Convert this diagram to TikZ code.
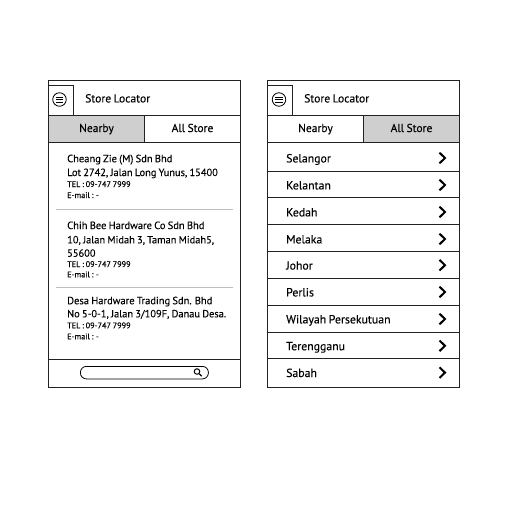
\documentclass[tikz,border=0pt]{standalone}
\usepackage{fontspec}
\setmainfont[WordSpace=0.8, FakeBold=0.12]{PT Sans}
\definecolor{tabgray}{HTML}{CFCFCF}
\definecolor{rulegray}{HTML}{BDBDBD}
\definecolor{framegray}{HTML}{222222}
\tikzset{
	frame/.style={draw=framegray, line width=1pt},
	tabbox/.style={frame, minimum height=27pt, inner sep=0pt, text height=8.5pt, text depth=2.5pt, font=\fontsize{11.5}{13}\selectfont},
	title/.style={anchor=base west, inner sep=0pt, font=\fontsize{11.6}{13}\selectfont},
	shop/.style={anchor=base west, inner sep=0pt, font=\fontsize{10.5}{12}\selectfont},
	addr/.style={anchor=base west, inner sep=0pt, font=\fontsize{10.4}{12}\selectfont},
	small/.style={anchor=base west, inner sep=0pt, font=\fontsize{8.2}{10}\selectfont},
	rowtext/.style={anchor=base west, inner sep=0pt, font=\fontsize{11.8}{13}\selectfont},
	chevron/.style={draw=black, line width=2pt, miter limit=4},
}
\begin{document}
\begin{tikzpicture}[x=1pt, y=-1pt]
	\useasboundingbox (0,0) rectangle (512,512);

	% left screen
	\node[frame, anchor=north west, minimum width=192pt, minimum height=307pt, inner sep=0pt] (leftscreen) at (48,80) {};
	\node[frame, anchor=north west, minimum width=25pt, minimum height=30pt, inner sep=0pt] (leftmenu) at (48,85) {};
	\node[circle, draw=black, line width=0.8pt, minimum size=13.5pt, inner sep=0pt] (lefticon) at (59.5,99.5) {};
	\foreach \dy in {-2.4,0,2.4}
		\draw[line width=0.8pt] ([xshift=-3.6pt, yshift=\dy pt]lefticon.center) -- ([xshift=3.6pt, yshift=\dy pt]lefticon.center);
	\node[title] (lefttitle) at (85,102.4) {Store Locator};
	\node[tabbox, fill=tabgray, anchor=north west, minimum width=96pt] (leftnear) at (48,115) {Nearby};
	\node[tabbox, anchor=north west, minimum width=96pt] (leftall) at (144,115) {All Store};

	\node[shop] (shopa)  at (67,162.2) {Cheang Zie (M) Sdn Bhd};
	\node[addr] (addra)  at (67,176) {Lot 2742, Jalan Long Yunus, 15400};
	\node[small] (tela)  at (67,187) {TEL : 09-747 7999};
	\node[small] (maila) at (67,198) {E-mail : -};
	\draw[rulegray, line width=0.6pt] (56,209.5) -- (233,209.5);

	\node[shop] (shopb)  at (67,229) {Chih Bee Hardware Co Sdn Bhd};
	\node[addr] (addrb)  at (67,243.3) {10, Jalan Midah 3, Taman Midah5,};
	\node[addr] (addrc)  at (67,256.7) {55600};
	\node[small] (telb)  at (67,267) {TEL : 09-747 7999};
	\node[small] (mailb) at (67,277.3) {E-mail : -};
	\draw[rulegray, line width=0.6pt] (56,287.5) -- (233,287.5);

	\node[shop] (shopc)  at (67,304.2) {Desa Hardware Trading Sdn. Bhd};
	\node[addr] (addrd)  at (67,317.3) {No 5-0-1, Jalan 3/109F, Danau Desa.};
	\node[small] (telc)  at (67,328.3) {TEL : 09-747 7999};
	\node[small] (mailc) at (67,339.3) {E-mail : -};

	\draw[frame] (48,359) -- (240,359);
	\node[draw=black, line width=0.8pt, rounded corners=6pt, anchor=north west, minimum width=128pt, minimum height=12.5pt, inner sep=0pt] (search) at (80,366) {};
	\node[circle, draw=black, line width=1pt, minimum size=5.5pt, inner sep=0pt] (lens) at (197,371.5) {};
	\draw[line width=1.4pt] (lens.south east) -- ++(2.4,2.4);

	% right screen
	\node[frame, anchor=north west, minimum width=192pt, minimum height=307pt, inner sep=0pt] (rightscreen) at (267,80) {};
	\node[frame, anchor=north west, minimum width=25pt, minimum height=30pt, inner sep=0pt] (rightmenu) at (267,85) {};
	\node[circle, draw=black, line width=0.8pt, minimum size=13.5pt, inner sep=0pt] (righticon) at (279,99.5) {};
	\foreach \dy in {-2.4,0,2.4}
		\draw[line width=0.8pt] ([xshift=-3.6pt, yshift=\dy pt]righticon.center) -- ([xshift=3.6pt, yshift=\dy pt]righticon.center);
	\node[title] (righttitle) at (304,102.4) {Store Locator};
	\node[tabbox, anchor=north west, minimum width=96pt] (rightnear) at (267,115) {Nearby};
	\node[tabbox, fill=tabgray, anchor=north west, minimum width=96pt] (rightall) at (363,115) {All Store};

	\foreach \ybot/\ybase/\name in {
		171/162.4/Selangor,
		197.5/189.4/Kelantan,
		224/216.4/Kedah,
		251.5/243.4/Melaka,
		278.5/269.6/Johor,
		305/296.4/Perlis,
		332.5/323.4/Wilayah Persekutuan,
		358.5/350.2/Terengganu,
		387/377/Sabah} {
		\draw[frame] (267,\ybot) -- (459,\ybot);
		\node[rowtext] at (286,\ybase) {\name};
		\draw[chevron] (439.5,\ybase-9.7) -- (445,\ybase-4.4) -- (439.5,\ybase+0.9);
	}
\end{tikzpicture}
\end{document}
